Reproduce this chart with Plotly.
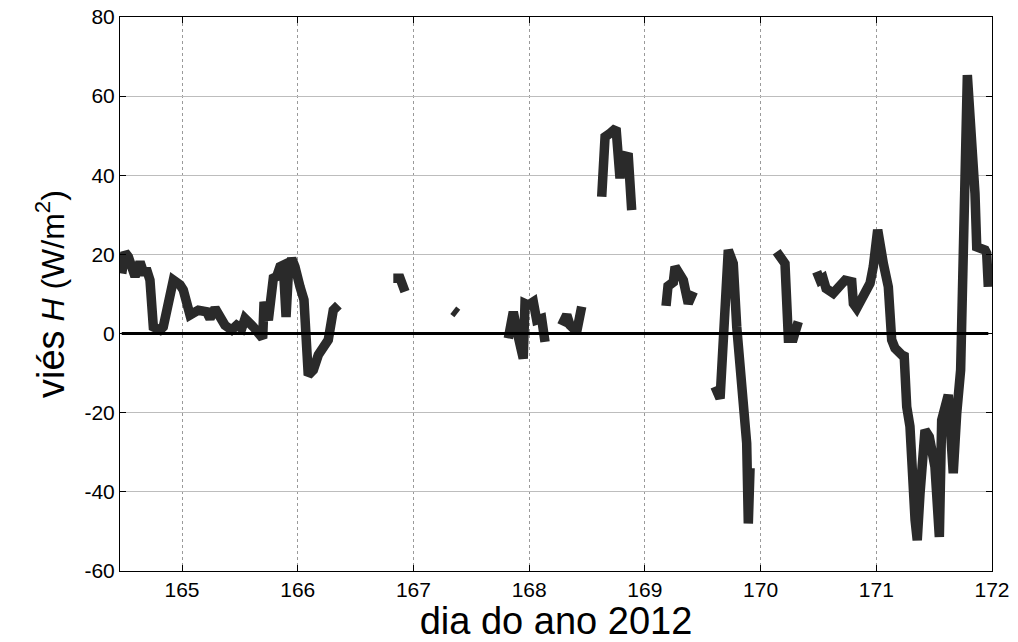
import plotly.graph_objects as go

# dia do ano (segments separated by None = gaps in data)
dia = [
    164.479, 164.507, 164.536, 164.594, 164.637, 164.665, 164.700, 164.723, 164.752, 164.810,
    164.838, 164.925, 164.983, 165.011, 165.069, 165.141, 165.213, 165.242, 165.285, 165.314,
    165.371, 165.429, 165.473, 165.516, 165.544, 165.616, 165.659, 165.697, 165.709, 165.746,
    165.789, 165.818, 165.847, 165.875, 165.899, 165.919, 165.948, 165.976, 166.020, 166.054,
    166.091, 166.135, 166.178, 166.221, 166.264, 166.307, 166.351, None,
    166.826, 166.884, 166.927, None,
    167.344, 167.379, None,
    167.820, 167.863, 167.906, 167.949, 167.964, 167.993, 168.036, 168.065, 168.108, 168.137, None,
    168.281, 168.325, 168.353, 168.411, 168.454, None,
    168.627, 168.656, 168.699, 168.751, 168.785, 168.800, 168.857, 168.886, None,
    169.183, 169.200, 169.246, 169.261, 169.332, 169.375, 169.419, None,
    169.606, 169.650, 169.721, 169.764, 169.794, 169.837, 169.880, 169.894, 169.909, None,
    170.139, 170.211, 170.240, 170.283, 170.326, None,
    170.485, 170.514, 170.540, 170.566, 170.628, 170.730, 170.788, 170.802, 170.831, 170.903,
    170.946, 170.974, 171.012, 171.061, 171.104, 171.133, 171.162, 171.220, 171.240, 171.263,
    171.291, 171.335, 171.354, 171.378, 171.421, 171.458, 171.507, 171.545, 171.565, 171.622,
    171.665, 171.695, 171.729, 171.787, 171.810, 171.853, 171.868, 171.940, 171.954, 171.968,
]

vies_H = [
    15.2, 20.5, 19.4, 14.4, 18.1, 15.6, 15.6, 13.5, 1.7, 0.9,
    1.7, 13.5, 12.3, 11.0, 4.7, 5.9, 5.5, 3.8, 6.4, 5.1,
    2.1, 0.9, 2.1, 1.3, 3.8, 1.7, 0.5, -1.2, 8.0, 3.4,
    14.0, 14.4, 16.9, 17.3, 4.2, 15.2, 19.0, 16.9, 11.8, 8.5,
    -10.5, -9.2, -5.4, -3.7, -1.6, 5.9, 7.2, None,
    14.0, 14.0, 10.6, None,
    5.9, 5.1, None,
    -1.2, 5.5, -0.8, -6.3, 7.6, 7.2, 8.0, 3.4, 3.8, -2.1, None,
    2.1, 4.7, 2.1, 0.5, 6.8, None,
    34.6, 49.7, 50.6, 51.9, 39.2, 45.1, 44.7, 31.2, None,
    7.0, 12.0, 13.0, 16.9, 13.5, 7.6, 10.6, None,
    -13.4, -16.4, 21.1, 17.7, 1.7, -14.3, -27.7, -48.0, -34.0, None,
    20.7, 17.7, -1.2, -1.2, 3.0, None,
    15.6, 13.5, 14.0, 11.4, 10.2, 13.5, 13.1, 7.6, 6.4, 9.7,
    12.7, 16.9, 26.2, 17.7, 11.8, -1.6, -3.7, -5.4, -5.0, -18.5,
    -23.5, -47.1, -52.2, -40.4, -24.4, -26.1, -33.7, -51.4, -21.9, -15.5,
    -35.3, -20.2, -9.2, 65.3, 55.6, 35.4, 21.9, 21.1, 20.3, 11.8,
]

zero_x = [164.479, 171.968]
zero_y = [0, 0]

x_ticks = [165, 166, 167, 168, 169, 170, 171, 172]
y_ticks = [-60, -40, -20, 0, 20, 40, 60, 80]

fig = go.Figure()
fig.add_trace(go.Scatter(
    x=dia, y=vies_H, mode="lines", connectgaps=False,
    line=dict(color="#2a2a2a", width=9.5), hoverinfo="skip", showlegend=False,
))
fig.add_trace(go.Scatter(
    x=zero_x, y=zero_y, mode="lines",
    line=dict(color="#000000", width=3), hoverinfo="skip", showlegend=False,
))

font_family = "Liberation Sans, Arial, sans-serif"
fig.update_layout(
    width=1018, height=642,
    margin=dict(l=120, r=26, t=17, b=71),
    paper_bgcolor="white", plot_bgcolor="white",
    font=dict(family=font_family, color="black", size=20),
)
fig.update_xaxes(
    range=[164.464, 172.0], tickvals=x_ticks, ticktext=[str(v) for v in x_ticks],
    showline=True, linecolor="black", linewidth=1, mirror="ticks",
    ticks="inside", ticklen=6, tickcolor="black",
    showgrid=True, gridcolor="#9a9a9a", griddash="dot", gridwidth=1,
    zeroline=False, tickfont=dict(size=21), automargin=False,
    title=dict(text="dia do ano 2012", font=dict(size=38), standoff=9),
)
fig.update_yaxes(
    range=[-60, 80], tickvals=y_ticks, ticktext=[str(v) for v in y_ticks],
    showline=True, linecolor="black", linewidth=1, mirror="ticks",
    ticks="inside", ticklen=6, tickcolor="black",
    showgrid=True, gridcolor="#bdbdbd", gridwidth=1,
    zeroline=False, tickfont=dict(size=21), automargin=False,
    title=dict(text="<span style='font-size:38px'>viés</span> <i>H</i> (W/m<sup>2</sup>)",
               font=dict(size=32), standoff=10),
)

fig.write_html("out.html")
